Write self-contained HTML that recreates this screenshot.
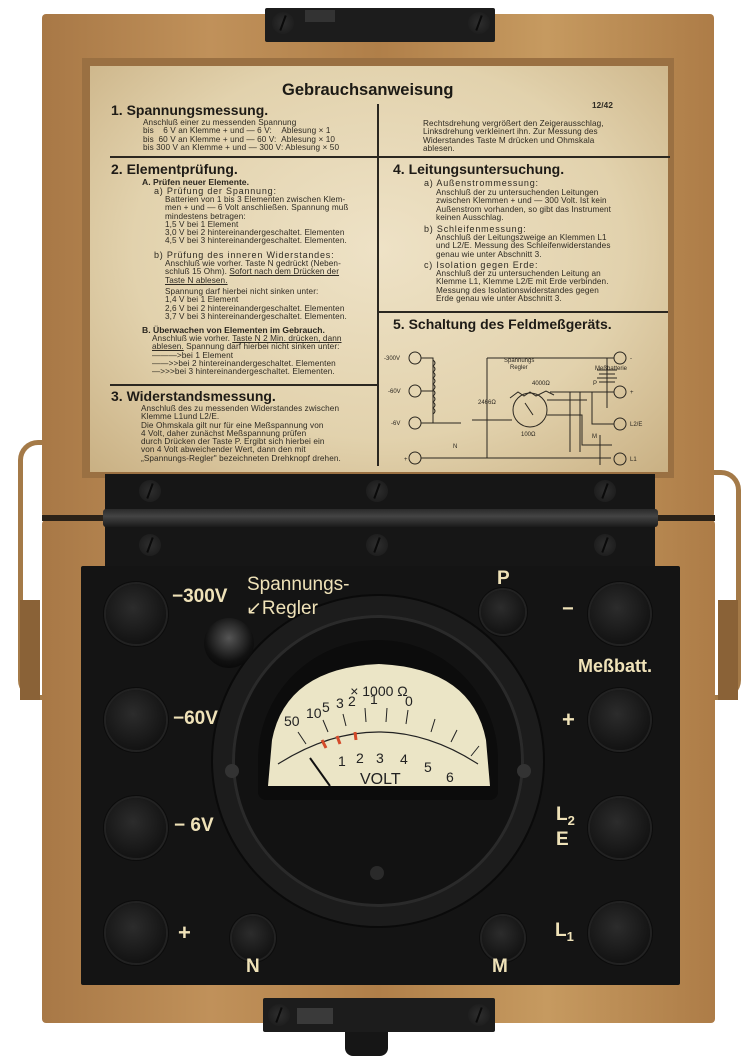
<!DOCTYPE html>
<html><head><meta charset="utf-8"><style>
*{margin:0;padding:0;box-sizing:border-box}
body{width:750px;height:1064px;background:#fff;position:relative;overflow:hidden;font-family:"Liberation Sans",sans-serif}
.a{position:absolute}
.wood{background:linear-gradient(90deg,#a87846,#c0915a 25%,#b07f49 50%,#c69a60 75%,#ad7c47);}
.p{position:absolute;font-size:8.2px;line-height:8.3px;color:#2e2a22;white-space:nowrap;letter-spacing:.1px}
.h{position:absolute;font-weight:bold;font-size:14px;color:#1e1b16;white-space:nowrap}
.s{position:absolute;font-weight:bold;font-size:8.6px;color:#2a261f;white-space:nowrap}
.knob{position:absolute;border-radius:50%;background:radial-gradient(circle at 45% 40%,#2c2c2c,#141414 70%,#0a0a0a);box-shadow:0 0 0 2px #222, 0 0 0 3px #0c0c0c}
.lb{position:absolute;color:#efe2b8;font-weight:bold;white-space:nowrap}
.screw{position:absolute;width:22px;height:22px;border-radius:50%;background:radial-gradient(circle,#2e2e2e,#181818);}
.screw:after{content:"";position:absolute;left:3px;right:3px;top:10px;height:2px;background:#0a0a0a;transform:rotate(-70deg)}
</style></head><body>
<!-- straps -->
<div class="a" style="left:18px;top:440px;width:24px;height:260px;border:5px solid #a47a48;border-right:none;border-radius:20px 0 0 20px"></div>
<div class="a" style="left:713px;top:470px;width:28px;height:230px;border:5px solid #a47a48;border-left:none;border-radius:0 20px 20px 0"></div>
<div class="a" style="left:20px;top:600px;width:20px;height:100px;background:#8a6237"></div>
<div class="a" style="left:718px;top:600px;width:20px;height:100px;background:#8a6237"></div>
<!-- lid -->
<div class="a wood" style="left:42px;top:14px;width:672px;height:504px;border-radius:4px"></div>
<div class="a" style="left:82px;top:58px;width:592px;height:420px;background:#9a7042"></div>
<div class="a" style="left:90px;top:66px;width:578px;height:406px;background:radial-gradient(ellipse at 50% 45%,#eee2c6,#e2d2ad 60%,#c9b083);"></div>
<!-- top clasp -->
<div class="a" style="left:265px;top:8px;width:230px;height:34px;background:#1c1c1c;border-radius:2px"></div>
<div class="screw" style="left:272px;top:12px"></div><div class="screw" style="left:468px;top:12px"></div>
<div class="a" style="left:305px;top:10px;width:30px;height:12px;background:#333"></div>
<!-- paper text -->
<div class="a" style="left:282px;top:81px;font-weight:bold;font-size:16.5px;color:#1c1a15">Gebrauchsanweisung</div>
<div class="a" style="left:377px;top:104px;width:2px;height:362px;background:#2b2720"></div>
<div class="a" style="left:110px;top:156px;width:560px;height:1.5px;background:#2b2720"></div>
<div class="a" style="left:110px;top:384px;width:268px;height:1.5px;background:#2b2720"></div>
<div class="a" style="left:378px;top:311px;width:290px;height:1.5px;background:#2b2720"></div>
<div class="h" style="left:111px;top:102px">1. Spannungsmessung.</div>
<div class="p" style="left:143px;top:119px">Anschluß einer zu messenden Spannung<br>bis &nbsp;&nbsp;&nbsp;6 V an Klemme + und — 6 V: &nbsp;&nbsp;&nbsp;Ablesung × 1<br>bis &nbsp;60 V an Klemme + und — 60 V: &nbsp;Ablesung × 10<br>bis 300 V an Klemme + und — 300 V: Ablesung × 50</div>
<div class="h" style="left:111px;top:161px">2. Elementprüfung.</div>
<div class="s" style="left:142px;top:177px">A. Prüfen neuer Elemente.</div>
<div class="p" style="left:154px;top:187px;font-size:9px;letter-spacing:.8px">a) Prüfung der Spannung:</div>
<div class="p" style="left:165px;top:196px">Batterien von 1 bis 3 Elementen zwischen Klem-<br>men + und — 6 Volt anschließen. Spannung muß<br>mindestens betragen:<br>1,5 V bei 1 Element<br>3,0 V bei 2 hintereinandergeschaltet. Elementen<br>4,5 V bei 3 hintereinandergeschaltet. Elementen.</div>
<div class="p" style="left:154px;top:251px;font-size:9px;letter-spacing:.8px">b) Prüfung des inneren Widerstandes:</div>
<div class="p" style="left:165px;top:260px">Anschluß wie vorher. Taste N gedrückt (Neben-<br>schluß 15 Ohm). <u>Sofort nach dem Drücken der</u><br><u>Taste N ablesen.</u></div>
<div class="p" style="left:165px;top:288px">Spannung darf hierbei nicht sinken unter:<br>1,4 V bei 1 Element<br>2,6 V bei 2 hintereinandergeschaltet. Elementen<br>3,7 V bei 3 hintereinandergeschaltet. Elementen.</div>
<div class="s" style="left:142px;top:325px">B. Überwachen von Elementen im Gebrauch.</div>
<div class="p" style="left:152px;top:335px">Anschluß wie vorher. <u>Taste N 2 Min. drücken, dann</u><br><u>ablesen.</u> Spannung darf hierbei nicht sinken unter:<br>———&gt;bei 1 Element<br>——&gt;&gt;bei 2 hintereinandergeschaltet. Elementen<br>—&gt;&gt;&gt;bei 3 hintereinandergeschaltet. Elementen.</div>
<div class="h" style="left:111px;top:388px">3. Widerstandsmessung.</div>
<div class="p" style="left:141px;top:405px">Anschluß des zu messenden Widerstandes zwischen<br>Klemme L1und L2/E.<br>Die Ohmskala gilt nur für eine Meßspannung von<br>4 Volt, daher zunächst Meßspannung prüfen<br>durch Drücken der Taste P. Ergibt sich hierbei ein<br>von 4 Volt abweichender Wert, dann den mit<br>„Spannungs-Regler" bezeichneten Drehknopf drehen.</div>
<div class="p" style="left:592px;top:102px;font-weight:bold">12/42</div>
<div class="p" style="left:423px;top:120px">Rechtsdrehung vergrößert den Zeigerausschlag,<br>Linksdrehung verkleinert ihn. Zur Messung des<br>Widerstandes Taste M drücken und Ohmskala<br>ablesen.</div>
<div class="h" style="left:393px;top:161px">4. Leitungsuntersuchung.</div>
<div class="p" style="left:424px;top:179px;font-size:9px;letter-spacing:.8px">a) Außenstrommessung:</div>
<div class="p" style="left:436px;top:189px">Anschluß der zu untersuchenden Leitungen<br>zwischen Klemmen + und — 300 Volt. Ist kein<br>Außenstrom vorhanden, so gibt das Instrument<br>keinen Ausschlag.</div>
<div class="p" style="left:424px;top:225px;font-size:9px;letter-spacing:.8px">b) Schleifenmessung:</div>
<div class="p" style="left:436px;top:234px">Anschluß der Leitungszweige an Klemmen L1<br>und L2/E. Messung des Schleifenwiderstandes<br>genau wie unter Abschnitt 3.</div>
<div class="p" style="left:424px;top:261px;font-size:9px;letter-spacing:.8px">c) Isolation gegen Erde:</div>
<div class="p" style="left:436px;top:270px">Anschluß der zu untersuchenden Leitung an<br>Klemme L1, Klemme L2/E mit Erde verbinden.<br>Messung des Isolationswiderstandes gegen<br>Erde genau wie unter Abschnitt 3.</div>
<div class="h" style="left:393px;top:316px">5. Schaltung des Feldmeßgeräts.</div>
<svg class="a" style="left:380px;top:340px" width="290" height="132" viewBox="0 0 290 132">
<g fill="none" stroke="#2b2720" stroke-width="1">
<circle cx="35" cy="18" r="6"/><circle cx="35" cy="51" r="6"/><circle cx="35" cy="83" r="6"/><circle cx="35" cy="118" r="6"/>
<circle cx="240" cy="18" r="6"/><circle cx="240" cy="52" r="6"/><circle cx="240" cy="84" r="6"/><circle cx="240" cy="119" r="6"/>
<path d="M41 18h12v65M41 51h12M41 83h40M41 118h190M107 18h127M227 18v50M227 52h7M170 52h64M212 52v32h22M107 18v100"/>
<path d="M53 20q4 3 0 6q4 3 0 6q4 3 0 6q4 3 0 6q4 3 0 6q4 3 0 6q4 3 0 6q4 3 0 6q4 3 0 6"/>
<circle cx="150" cy="70" r="17"/><path d="M145 63l8 12M92 80h20h20M167 75h35v30h30M190 52v60M200 52v60M167 60h40M220 95v30"/>
<path d="M130 58l8-6l6 4l6-4l6 4l10-5l8 4"/>
<path d="M217 30h20M219 34h16M217 38h20M219 42h16"/>
</g>
<g font-size="6" fill="#2b2720" font-family="Liberation Sans"><text x="4" y="20">-300V</text><text x="8" y="53">-60V</text><text x="11" y="85">-6V</text><text x="24" y="121">+</text><text x="250" y="20">-</text><text x="250" y="54">+</text><text x="250" y="86">L2/E</text><text x="250" y="121">L1</text><text x="215" y="30">Meßbatterie</text><text x="124" y="22">Spannungs</text><text x="130" y="29">Regler</text><text x="152" y="45">4000Ω</text><text x="141" y="96">100Ω</text><text x="98" y="64">2466Ω</text><text x="73" y="108">N</text><text x="212" y="98">M</text><text x="213" y="45">P</text></g>
</svg>
<!-- bottom box -->
<div class="a wood" style="left:42px;top:520px;width:673px;height:503px;border-radius:4px"></div>
<div class="a" style="left:42px;top:515px;width:673px;height:6px;background:#2b2218"></div>
<!-- hinge -->
<div class="a" style="left:105px;top:474px;width:550px;height:92px;background:#161616"></div>
<div class="a" style="left:103px;top:509px;width:555px;height:18px;background:linear-gradient(#2a2a2a,#444 40%,#1a1a1a);border-radius:3px"></div>
<div class="screw" style="left:139px;top:480px"></div><div class="screw" style="left:366px;top:480px"></div><div class="screw" style="left:594px;top:480px"></div>
<div class="screw" style="left:139px;top:534px"></div><div class="screw" style="left:366px;top:534px"></div><div class="screw" style="left:594px;top:534px"></div>
<!-- panel -->
<div class="a" style="left:81px;top:566px;width:599px;height:419px;background:#141414;border-radius:2px"></div>
<div class="a" style="left:213px;top:596px;width:330px;height:330px;border-radius:50%;background:#1c1c1c;box-shadow:0 0 0 2px #0a0a0a"></div>
<div class="a" style="left:232px;top:615px;width:292px;height:292px;border-radius:50%;background:#121212;box-shadow:inset 0 0 0 3px #2a2a2a"></div>
<div class="a" style="left:258px;top:640px;width:240px;height:160px;border-radius:120px 120px 8px 8px;background:#0c0c0c"></div>
<svg class="a" style="left:266px;top:660px" width="226" height="128" viewBox="0 0 226 128">
<path d="M2 126L6 80Q20 8 113 4Q206 8 220 80L224 126Z" fill="#ebe5c6"/>
<path d="M12 104Q113 40 212 104" fill="none" stroke="#222" stroke-width="1.2"/>
<g stroke="#222" stroke-width="1"><path d="M40 84l-8-12M62 72l-5-12M80 66l-3-12M100 62l-1-14M120 62l1-14M140 64l2-14M165 72l4-13M185 82l6-12M205 96l8-10"/></g>
<g stroke="#d44a2a" stroke-width="3"><path d="M60 88l-4-8M74 84l-3-8M90 80l-1-8"/></g>
<text x="113" y="36" font-size="14" text-anchor="middle" font-family="Liberation Sans" fill="#222">× 1000 Ω</text>
<g font-size="14" font-family="Liberation Sans" fill="#222"><text x="18" y="66">50</text><text x="40" y="58">10</text><text x="56" y="52">5</text><text x="70" y="48">3</text><text x="82" y="46">2</text><text x="104" y="44">1</text><text x="139" y="46">0</text><text x="72" y="106">1</text><text x="90" y="103">2</text><text x="110" y="103">3</text><text x="134" y="104">4</text><text x="158" y="112">5</text><text x="180" y="122">6</text><text x="94" y="124" font-size="16">VOLT</text></g>
<path d="M44 98l20 28" stroke="#111" stroke-width="2"/>
</svg>
<div class="a" style="left:225px;top:764px;width:14px;height:14px;border-radius:50%;background:#333"></div>
<div class="a" style="left:517px;top:764px;width:14px;height:14px;border-radius:50%;background:#333"></div>
<div class="a" style="left:370px;top:866px;width:14px;height:14px;border-radius:50%;background:#2a2a2a"></div>
<div class="knob" style="left:106px;top:584px;width:60px;height:60px"></div>
<div class="knob" style="left:106px;top:690px;width:60px;height:60px"></div>
<div class="knob" style="left:106px;top:798px;width:60px;height:60px"></div>
<div class="knob" style="left:106px;top:903px;width:60px;height:60px"></div>
<div class="knob" style="left:590px;top:584px;width:60px;height:60px"></div>
<div class="knob" style="left:590px;top:690px;width:60px;height:60px"></div>
<div class="knob" style="left:590px;top:798px;width:60px;height:60px"></div>
<div class="knob" style="left:590px;top:903px;width:60px;height:60px"></div>
<div class="knob" style="left:481px;top:590px;width:44px;height:44px"></div>
<div class="knob" style="left:232px;top:916px;width:42px;height:44px"></div>
<div class="knob" style="left:482px;top:916px;width:42px;height:44px"></div>
<div class="a" style="left:204px;top:618px;width:50px;height:50px;border-radius:50%;background:radial-gradient(circle at 50% 40%,#555,#111 60%,#000)"></div>
<div class="lb" style="left:172px;top:586px;font-size:19px">−300V</div>
<div class="lb" style="left:247px;top:574px;font-size:19px;font-weight:normal">Spannungs-</div>
<div class="lb" style="left:246px;top:597px;font-size:19px;font-weight:normal">↙Regler</div>
<div class="lb" style="left:497px;top:568px;font-size:19px">P</div>
<div class="lb" style="left:562px;top:598px;font-size:20px">−</div>
<div class="lb" style="left:578px;top:656px;font-size:18px">Meßbatt.</div>
<div class="lb" style="left:562px;top:707px;font-size:22px">+</div>
<div class="lb" style="left:173px;top:708px;font-size:19px">−60V</div>
<div class="lb" style="left:174px;top:815px;font-size:19px">− 6V</div>
<div class="lb" style="left:556px;top:805px;font-size:19px;line-height:19px">L<sub style="font-size:13px">2</sub><br>E</div>
<div class="lb" style="left:178px;top:920px;font-size:22px">+</div>
<div class="lb" style="left:555px;top:920px;font-size:19px">L<sub style="font-size:13px">1</sub></div>
<div class="lb" style="left:246px;top:956px;font-size:19px">N</div>
<div class="lb" style="left:492px;top:956px;font-size:19px">M</div>
<!-- bottom clasp -->
<div class="a" style="left:263px;top:998px;width:232px;height:34px;background:#1c1c1c;border-radius:2px"></div>
<div class="screw" style="left:268px;top:1004px"></div><div class="screw" style="left:468px;top:1004px"></div>
<div class="a" style="left:297px;top:1008px;width:36px;height:16px;background:#3a3a3a"></div>
<div class="a" style="left:345px;top:1032px;width:43px;height:24px;background:#161616;border-radius:0 0 8px 8px"></div>
</body></html>
